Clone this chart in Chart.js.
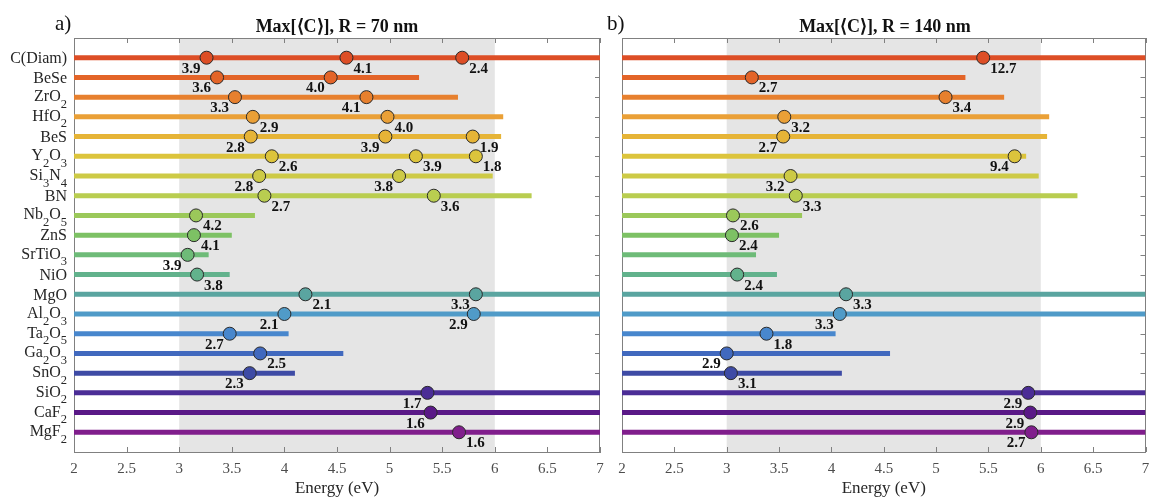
<!DOCTYPE html>
<html><head><meta charset="utf-8">
<script src="https://cdn.jsdelivr.net/npm/chart.js@4.4.0/dist/chart.umd.min.js"></script>
<style>
html,body{margin:0;padding:0;background:#fff;overflow:hidden;}
#wrap{position:relative;width:1153px;height:499px;background:#fff;}
canvas{position:absolute;top:0;}
#ca{left:0;}
#cb{left:600px;}
</style></head><body>
<div id="wrap"><canvas id="ca" width="610" height="499"></canvas><canvas id="cb" width="553" height="499"></canvas></div>
<script>
// ---- data ----
const materials = ['C(Diam)','BeSe','ZrO_2','HfO_2','BeS','Y_2O_3','Si_3N_4','BN','Nb_2O_5','ZnS','SrTiO_3','NiO','MgO','Al_2O_3','Ta_2O_5','Ga_2O_3','SnO_2','SiO_2','CaF_2','MgF_2'];
const barEnds = [7,5.28,5.65,6.08,6.06,5.86,5.98,6.35,3.72,3.50,3.28,3.48,7,7,4.04,4.56,4.10,7,7,7];
const rowColors = ['#dd4e26','#e36428','#e7802e','#eaa037','#e6b437','#dcc43c','#cdca46','#b9cd50','#9bc85a','#7dc164','#6ebb78','#62b28c','#5aa5a0','#509bc8','#4887cd','#4169be','#3e4ba5','#4b2d96','#5a1987','#801e8c'];
const xTicks = [2,2.5,3,3.5,4,4.5,5,5.5,6,6.5,7];
const shadeRange = [3,6];

// panel a: Max[<C>], R = 70 nm
const peaksA_row    = [1,1,1, 2,2, 3,3, 4,4, 5,5,5, 6,6,6, 7,7, 8,8, 9,10,11,12, 13,13, 14,14, 15,16,17, 18,19,20];
const peaksA_energy = [3.26,4.59,5.69, 3.36,4.44, 3.53,4.78, 3.70,4.98, 3.68,4.96,5.79, 3.88,5.25,5.82, 3.76,5.09, 3.81,5.42, 3.16,3.14,3.08,3.17, 4.20,5.82, 4.00,5.80, 3.48,3.77,3.67, 5.36,5.39,5.66];
const peaksA_label  = ['3.9','4.1','2.4','3.6','4.0','3.3','4.1','2.9','4.0','2.8','3.9','1.9','2.6','3.9','1.8','2.8','3.8','2.7','3.6','4.2','4.1','3.9','3.8','2.1','3.3','2.1','2.9','2.7','2.5','2.3','1.7','1.6','1.6'];
const peaksA_side   = ['L','R','R','L','L','L','L','R','R','L','L','R','R','R','R','L','L','R','R','R','R','L','R','R','L','L','L','L','R','L','L','L','R'];

// panel b: Max[<C>], R = 140 nm
const peaksB_row    = [1,2,3,4,5,6,7,8,9,10,12,13,14,15,16,17,18,19,20];
const peaksB_energy = [5.45,3.24,5.09,3.55,3.54,5.75,3.61,3.66,3.06,3.05,3.10,4.14,4.08,3.38,3.00,3.04,5.88,5.90,5.91];
const peaksB_label  = ['12.7','2.7','3.4','3.2','2.7','9.4','3.2','3.3','2.6','2.4','2.4','3.3','3.3','1.8','2.9','3.1','2.9','2.9','2.7'];
const peaksB_side   = ['R','R','R','R','L','L','L','R','R','R','R','R','L','R','L','R','L','L','L'];

const SERIF = '"Liberation Serif","Times New Roman",serif';

function parseLabel(s){
  const parts=[]; let i=0, cur='';
  while(i<s.length){
    if(s[i]==='_' && i+1<s.length){ if(cur){parts.push({t:cur,sub:false});cur='';} parts.push({t:s[i+1],sub:true}); i+=2; }
    else { cur+=s[i]; i++; }
  }
  if(cur) parts.push({t:cur,sub:false});
  return parts;
}

function makePanel(canvasId, cfg){
  const datasets = [];
  datasets.push({
    type:'scatter',
    data: cfg.rows.map((r,i)=>({x:cfg.energy[i], y:r})),
    pointRadius:6.5, pointHoverRadius:6.5,
    pointBackgroundColor: cfg.rows.map(r=>rowColors[r-1]),
    pointBorderColor:'#2a2a2a', pointBorderWidth:1,
    showLine:false, order:-1
  });
  materials.forEach((m,i)=>{
    datasets.push({
      type:'scatter', showLine:true,
      data:[{x:2,y:i+1},{x:barEnds[i],y:i+1}],
      borderColor: rowColors[i], borderWidth:5, borderCapStyle:'butt',
      pointRadius:0, pointHoverRadius:0, order:1
    });
  });

  const deco = {
    id:'deco',
    beforeDraw(chart){
      const {ctx, chartArea:ca, scales:{x}} = chart;
      const x0=x.getPixelForValue(shadeRange[0]), x1=x.getPixelForValue(shadeRange[1]);
      ctx.save(); ctx.fillStyle='#e5e5e5';
      ctx.fillRect(x0, ca.top, x1-x0, ca.bottom-ca.top);
      ctx.restore();
    },
    beforeDatasetsDraw(chart){
      const {ctx, chartArea:ca, scales:{x,y}} = chart;
      ctx.save(); ctx.strokeStyle='#808080'; ctx.lineWidth=1; ctx.beginPath();
      xTicks.forEach(v=>{
        const px=Math.round(x.getPixelForValue(v))+0.5;
        ctx.moveTo(px, ca.bottom); ctx.lineTo(px, ca.bottom-5);
        ctx.moveTo(px, ca.top); ctx.lineTo(px, ca.top+5);
      });
      materials.forEach((m,i)=>{
        const py=Math.round(y.getPixelForValue(i+1))+0.5;
        ctx.moveTo(ca.left, py); ctx.lineTo(ca.left+5, py);
        ctx.moveTo(ca.right, py); ctx.lineTo(ca.right-5, py);
      });
      ctx.moveTo(ca.left, Math.round(ca.top)+0.5); ctx.lineTo(ca.right, Math.round(ca.top)+0.5);
      ctx.moveTo(Math.round(ca.right)-0.5, ca.top); ctx.lineTo(Math.round(ca.right)-0.5, ca.bottom);
      ctx.stroke(); ctx.restore();
    },
    afterDatasetsDraw(chart){
      const {ctx, scales:{x,y}} = chart;
      ctx.save(); ctx.font='bold 15px '+SERIF; ctx.fillStyle='#111'; ctx.textBaseline='alphabetic';
      cfg.rows.forEach((r,i)=>{
        const cx=x.getPixelForValue(cfg.energy[i]), cy=y.getPixelForValue(r);
        if(cfg.side[i]==='R'){ ctx.textAlign='left'; ctx.fillText(cfg.labels[i], cx+7, cy+15); }
        else { ctx.textAlign='right'; ctx.fillText(cfg.labels[i], cx-6, cy+15); }
      });
      ctx.restore();
    },
    afterDraw(chart){
      const {ctx, chartArea:ca, scales:{y}} = chart;
      ctx.save();
      if(cfg.yLabels){
        ctx.fillStyle='#262626'; ctx.textAlign='left'; ctx.textBaseline='alphabetic';
        const mainF='16px '+SERIF, subF='12.5px '+SERIF;
        materials.forEach((m,i)=>{
          const parts=parseLabel(m);
          let w=0;
          parts.forEach(p=>{ ctx.font=p.sub?subF:mainF; p.w=ctx.measureText(p.t).width; w+=p.w; });
          const hasSub=parts.some(p=>p.sub);
          const cy=y.getPixelForValue(i+1);
          const base=cy+(hasSub?4:5.3);
          let cx=ca.left-7-w;
          parts.forEach(p=>{ ctx.font=p.sub?subF:mainF; ctx.fillText(p.t, cx, p.sub?base+6.5:base); cx+=p.w; });
        });
      }
      ctx.font='21px '+SERIF; ctx.fillStyle='#111'; ctx.textAlign='left'; ctx.textBaseline='alphabetic';
      ctx.fillText(cfg.letter, cfg.letterX, 30);
      ctx.restore();
    }
  };

  return new Chart(document.getElementById(canvasId), {
    data:{datasets},
    options:{
      responsive:false, animation:false, events:[], devicePixelRatio:1,
      layout:{padding:{left:cfg.padL, right:cfg.padR, top:0, bottom:0}},
      plugins:{
        legend:{display:false}, tooltip:{enabled:false},
        title:{display:true, text:cfg.title, color:'#111', font:{family:SERIF, size:18, weight:'bold'}, padding:{top:16.4, bottom:0}}
      },
      scales:{
        x:{type:'linear', min:2, max:7, position:'bottom',
           afterFit(s){ s.height=47; s.paddingLeft=0; s.paddingRight=0; },
           grid:{display:false, drawTicks:false},
           border:{display:true, color:'#808080'},
           ticks:{stepSize:0.5, padding:8, color:'#4d4d4d', font:{family:SERIF, size:15}, maxRotation:0, autoSkip:false,
                  callback:(v)=>String(Math.round(v*10)/10)},
           title:{display:true, text:'Energy (eV)', color:'#262626', font:{family:SERIF, size:17}, padding:{top:0,bottom:0}}
        },
        y:{type:'linear', min:0, max:21, reverse:true, position:'left',
           afterFit(s){ s.width=0; s.paddingTop=0; s.paddingBottom=0; },
           grid:{display:false, drawTicks:false},
           border:{display:true, color:'#808080'},
           ticks:{display:false}
        }
      }
    },
    plugins:[deco]
  });
}

makePanel('ca', {title:'Max[\u27E8C\u27E9], R = 70 nm', rows:peaksA_row, energy:peaksA_energy, labels:peaksA_label, side:peaksA_side, yLabels:true, letter:'a)', letterX:55, padL:74, padR:10});
makePanel('cb', {title:'Max[\u27E8C\u27E9], R = 140 nm', rows:peaksB_row, energy:peaksB_energy, labels:peaksB_label, side:peaksB_side, yLabels:false, letter:'b)', letterX:7, padL:22, padR:5});
</script>
</body></html>
